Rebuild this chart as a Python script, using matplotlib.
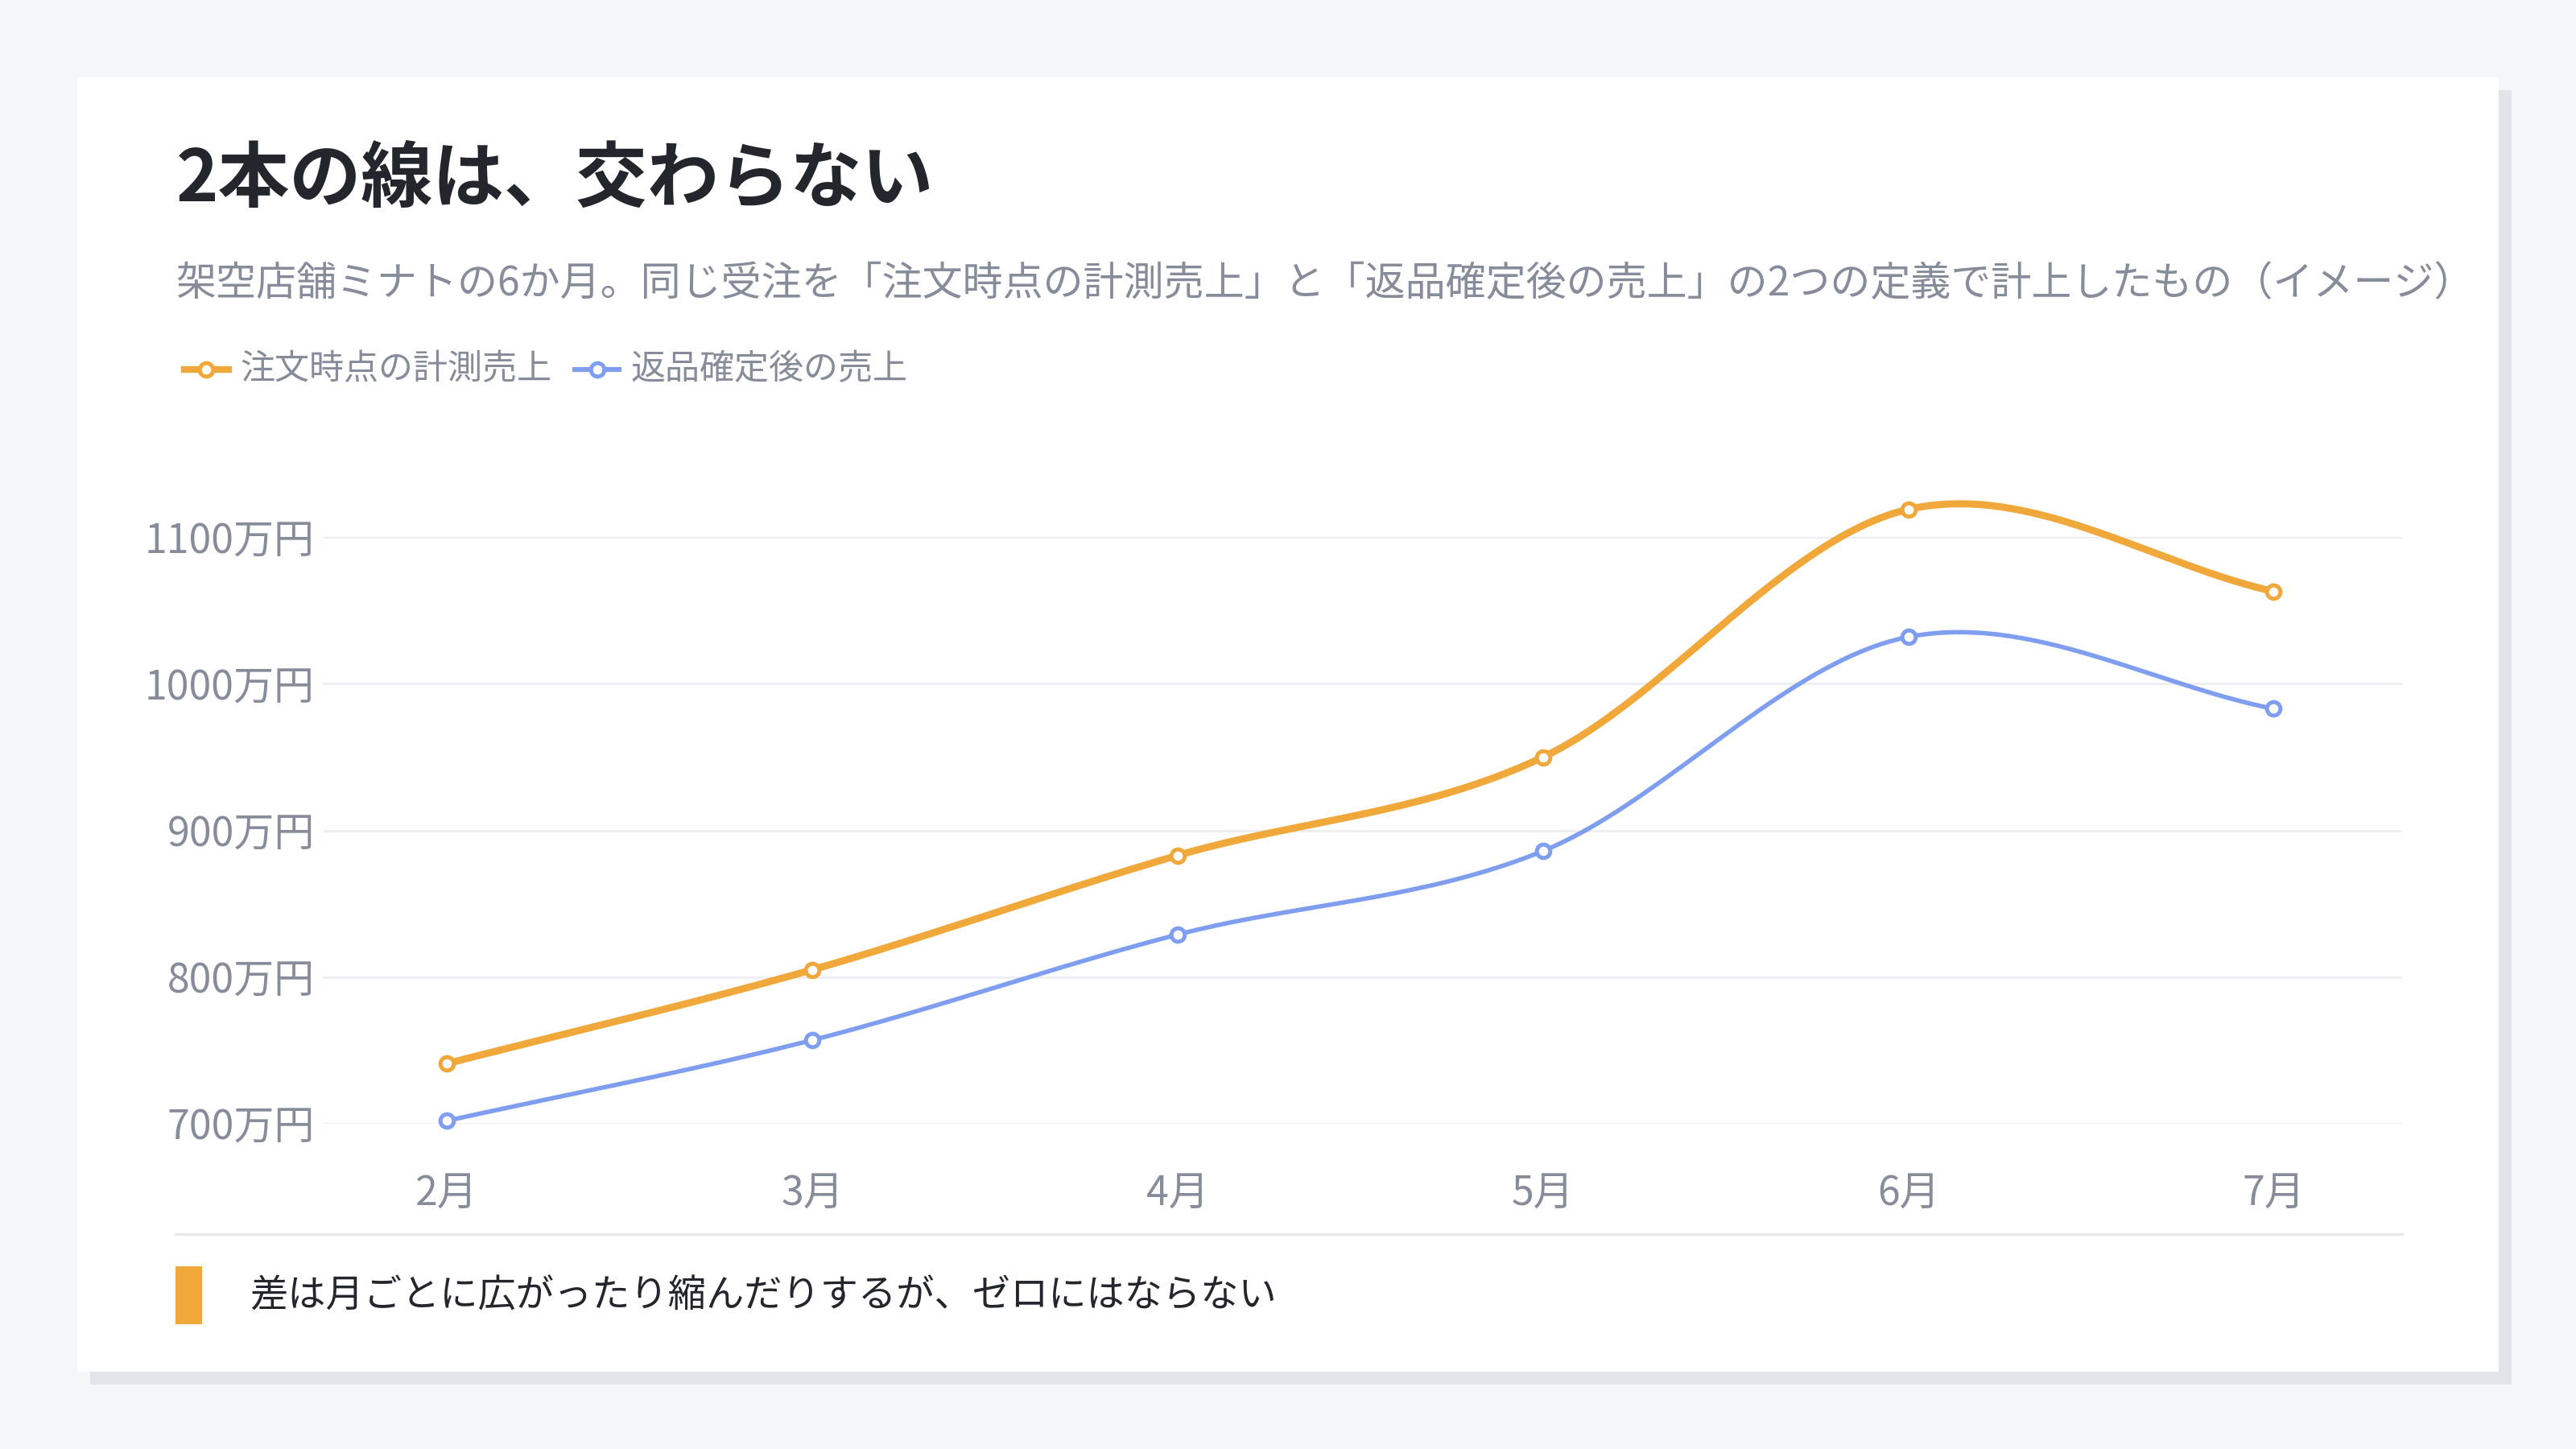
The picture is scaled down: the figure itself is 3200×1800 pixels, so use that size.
import matplotlib
matplotlib.use("Agg")
import matplotlib.pyplot as plt
import numpy as np
from matplotlib.patches import Rectangle

plt.rcParams['font.family'] = ['Noto Sans CJK JP', 'DejaVu Sans']

months = ["2月", "3月", "4月", "5月", "6月", "7月"]
order_sales = [741, 805, 883, 950, 1119, 1063]
confirmed_sales = [702, 757, 829, 886, 1032, 983]
yticks = [700, 800, 900, 1000, 1100]
ytick_labels = ["700万円", "800万円", "900万円", "1000万円", "1100万円"]

W, H = 1568, 882
fig = plt.figure(figsize=(16, 9), dpi=200)
fig.patch.set_facecolor("#f4f5f9")

def fx(x): return x / W
def fy(y): return 1 - y / H

fig.patches.append(Rectangle((fx(55), fy(843)), fx(1529) - fx(55), fy(55) - fy(843),
                             transform=fig.transFigure, facecolor="#e2e4ea", edgecolor="none", zorder=0))
fig.patches.append(Rectangle((fx(47), fy(835)), fx(1521) - fx(47), fy(47) - fy(835),
                             transform=fig.transFigure, facecolor="white", edgecolor="none", zorder=1))

fig.text(fx(107), fy(110), "2本の線は、交わらない", fontsize=32, fontweight="bold",
         color="#23262d", va="center", ha="left")
fig.text(fx(107), fy(173), "架空店舗ミナトの6か月。同じ受注を「注文時点の計測売上」と「返品確定後の売上」の2つの定義で計上したもの（イメージ）",
         fontsize=18, color="#868c99", va="center", ha="left")

ORANGE = "#f0a83a"
BLUE = "#7f9ef0"

ax = fig.add_axes([fx(197), fy(684), fx(1462) - fx(197), fy(327) - fy(684)])
ax.set_facecolor("none")
ax.set_zorder(2)

def smooth(xs, ys, n=40):
    xs = np.asarray(xs, float); ys = np.asarray(ys, float)
    px = np.concatenate([[2*xs[0]-xs[1]], xs, [2*xs[-1]-xs[-2]]])
    py = np.concatenate([[2*ys[0]-ys[1]], ys, [2*ys[-1]-ys[-2]]])
    ox, oy = [], []
    for i in range(1, len(px) - 2):
        t = np.linspace(0, 1, n)
        for arr, out in ((px, ox), (py, oy)):
            p0, p1, p2, p3 = arr[i-1], arr[i], arr[i+1], arr[i+2]
            out.extend(0.5*((2*p1) + (-p0+p2)*t + (2*p0-5*p1+4*p2-p3)*t**2 + (-p0+3*p1-3*p2+p3)*t**3))
    return np.array(ox), np.array(oy)

x = np.arange(len(months))
for ys, c, lw in ((order_sales, ORANGE, 3.2), (confirmed_sales, BLUE, 2.0)):
    sx, sy = smooth(x, ys)
    ax.plot(sx, sy, color=c, lw=lw, clip_on=False, zorder=3)
    ax.plot(x, ys, "o", ms=6, mfc="white", mec=c, mew=1.8, clip_on=False, zorder=4)

ax.set_xlim(-75/222.4, 5 + 78/222.4)
ax.set_ylim(700, 1100)
ax.set_yticks(yticks)
ax.set_yticklabels(ytick_labels)
ax.set_xticks(x)
ax.set_xticklabels(months)
ax.grid(axis="y", color="#eceef2", lw=1)
ax.set_axisbelow(True)
for s in ax.spines.values():
    s.set_visible(False)
ax.tick_params(length=0, labelsize=18, colors="#868c99")
ax.tick_params(axis="y", pad=4)
ax.tick_params(axis="x", pad=22)

# legend
ly = fy(225)
for (x0, c, label, tx) in ((112, ORANGE, "注文時点の計測売上", 146), (350, BLUE, "返品確定後の売上", 384)):
    fig.lines.append(plt.Line2D([fx(x0), fx(x0 + 27)], [ly, ly], transform=fig.transFigure,
                                color=c, lw=3 if c == ORANGE else 2.2, zorder=5))
    fig.lines.append(plt.Line2D([fx(x0 + 13.5)], [ly], transform=fig.transFigure, marker="o", ms=6,
                                mfc="white", mec=c, mew=1.8, zorder=6))
    fig.text(fx(tx), ly, label, fontsize=15.5, color="#868c99", va="center", ha="left", zorder=6)

# separator and footer
fig.lines.append(plt.Line2D([fx(107), fx(1462)], [fy(751), fy(751)], transform=fig.transFigure,
                            color="#e6e8ec", lw=1.2, zorder=5))
fig.patches.append(Rectangle((fx(107), fy(806)), fx(123) - fx(107), fy(771) - fy(806),
                             transform=fig.transFigure, facecolor=ORANGE, edgecolor="none", zorder=5))
fig.text(fx(152), fy(789), "差は月ごとに広がったり縮んだりするが、ゼロにはならない", fontsize=17,
         color="#23262d", va="center", ha="left", zorder=6)

fig.savefig("out.png", dpi=200, facecolor=fig.get_facecolor())
